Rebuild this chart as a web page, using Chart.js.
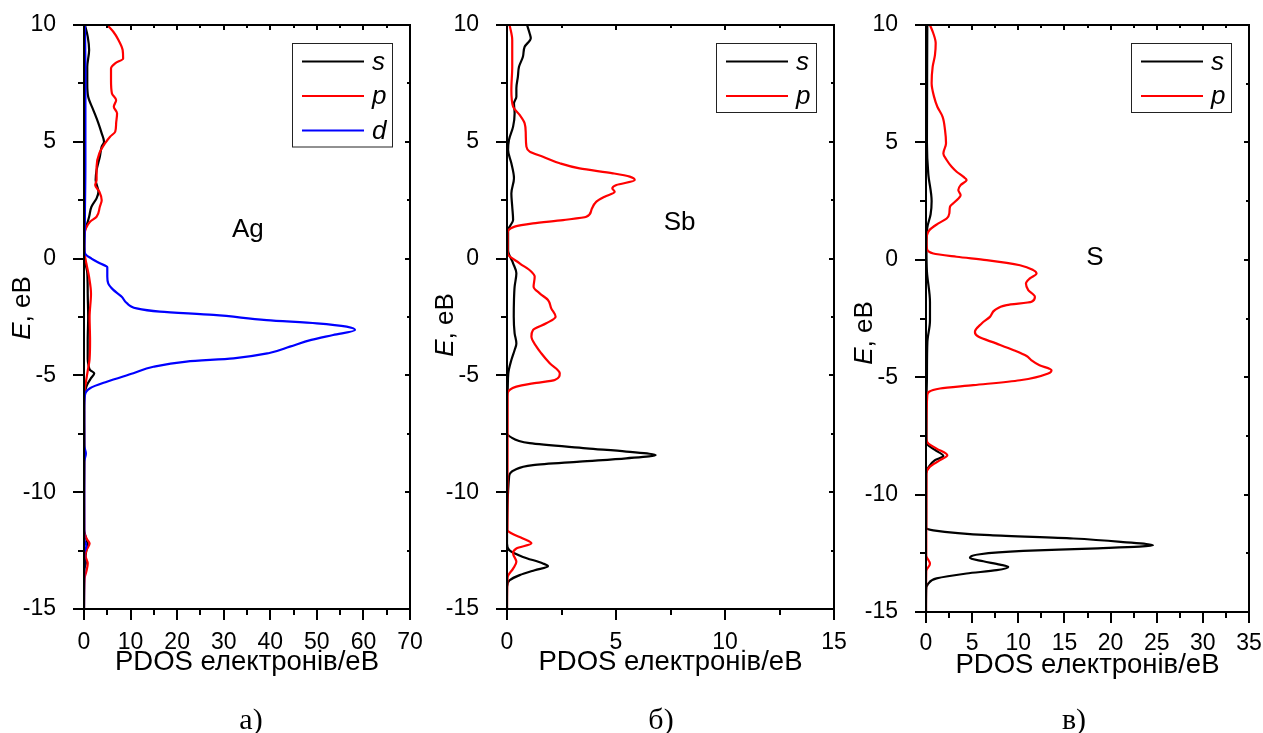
<!DOCTYPE html>
<html>
<head>
<meta charset="utf-8">
<title>PDOS Ag, Sb, S</title>
<script src="https://cdn.jsdelivr.net/npm/chart.js@4.4.1/dist/chart.umd.min.js"></script>
<style>
	html, body { margin: 0; padding: 0; background: #fff; overflow: hidden; }
	.panel { position: absolute; top: 0; }
</style>
</head>
<body>
<canvas id="chartAg" class="panel" width="440" height="733" style="left:0px"></canvas>
<canvas id="chartSb" class="panel" width="440" height="733" style="left:420px"></canvas>
<canvas id="chartS" class="panel" width="423" height="733" style="left:840px"></canvas>
<script>
// Ag: s, p, d projected DOS (energy in eV, PDOS in electrons/eV)
var agSEnergy = [10, 9.5, 8.93, 8.2, 7.5, 6.93, 6.36, 5.79, 5.36, 5.0, 4.79, 4.36, 3.79, 3.36, 2.86, 2.58, 2.22, 1.79, 1.51, 1.22, 0.8, 0.3, -0.2, -0.6, -1.5, -2.5, -3.5, -4.3, -4.6, -4.77, -4.91, -5.12, -5.35, -5.55, -5.9, -7, -8.3, -10, -11.6, -12.0, -12.25, -12.5, -12.8, -13.0, -13.3, -15];
var agSDos = [0.2, 0.8, 1.1, 0.7, 0.7, 0.9, 2.0, 3.1, 3.8, 4.3, 3.8, 3.4, 2.7, 2.5, 3.1, 2.7, 1.6, 1.1, 0.7, 0.2, 0.05, 0.05, 0.3, 0.7, 0.8, 0.9, 0.8, 0.8, 1.0, 1.3, 2.2, 1.5, 0.8, 0.4, 0.05, 0.05, 0.1, 0.02, 0.02, 0.5, 0.8, 0.5, 0.3, 0.4, 0.1, 0];

var agPEnergy = [10, 9.71, 9.36, 8.93, 8.57, 8.36, 8.14, 7.64, 7.07, 6.79, 6.5, 6.22, 5.79, 5.43, 5.22, 4.93, 4.51, 3.93, 3.36, 3.15, 2.86, 2.5, 2.22, 1.79, 1.58, 1.29, 0.9, 0.3, 0, -0.3, -0.8, -1.5, -2.5, -3.5, -4.3, -4.8, -5.3, -5.7, -6.5, -10, -11.7, -12.0, -12.2, -12.45, -12.7, -13.05, -13.4, -13.7, -15];
var agPDos = [5.0, 6.3, 7.4, 8.3, 8.4, 6.7, 5.8, 5.8, 6.0, 6.9, 6.4, 7.1, 6.9, 6.7, 5.6, 4.5, 3.3, 2.7, 2.7, 2.4, 3.3, 3.8, 3.4, 2.7, 1.3, 0.4, 0.05, 0.05, 0.3, 0.6, 1.1, 1.5, 1.2, 1.3, 1.2, 0.8, 0.4, 0.1, 0.02, 0.02, 0.05, 0.6, 1.2, 0.6, 0.3, 0.8, 0.5, 0.1, 0];

var agDEnergy = [10, 8, 6, 4, 2, 1, 0.5, 0.23, 0, -0.2, -0.37, -0.6, -0.77, -1.06, -1.34, -1.63, -1.91, -2.13, -2.27, -2.41, -2.63, -2.77, -2.91, -3.06, -3.27, -3.48, -3.77, -4.05, -4.27, -4.41, -4.63, -4.91, -5.27, -5.55, -5.84, -6.5, -8.0, -8.34, -8.7, -10, -12.0, -12.3, -12.6, -15];
var agDDos = [0.2, 0.3, 0.3, 0.3, 0.2, 0.15, 0.1, 0.2, 1.6, 3.4, 5.0, 5.0, 5.0, 5.2, 6.3, 8.1, 9.2, 11.3, 16.3, 27.8, 39.2, 50, 56.4, 58.2, 53.5, 48.8, 44.2, 39.6, 32.1, 22, 14.9, 10.6, 4.9, 1.3, 0.2, 0.05, 0.05, 0.4, 0.05, 0.05, 0.05, 0.5, 0.05, 0];

// Sb: s, p
var sbSEnergy = [10, 9.64, 9.43, 9.07, 8.64, 8.21, 7.79, 7.29, 6.93, 6.65, 6.22, 5.65, 5.08, 4.65, 4.08, 3.44, 2.79, 2.22, 1.65, 1.22, 0.36, -0.2, -0.63, -1.2, -1.77, -2.49, -3.2, -3.63, -3.91, -4.34, -4.91, -5.63, -5.91, -7.48, -7.61, -7.9, -8.12, -8.26, -8.41, -8.55, -8.69, -8.84, -9.05, -9.3, -12.2, -12.48, -12.77, -13.05, -13.17, -13.34, -13.55, -13.77, -14.05, -15];
var sbSDos = [0.92, 1.04, 1.09, 0.81, 0.73, 0.55, 0.5, 0.43, 0.43, 0.32, 0.35, 0.28, 0.09, 0.05, 0.2, 0.32, 0.2, 0.24, 0.28, 0.05, 0.05, 0.28, 0.43, 0.35, 0.32, 0.31, 0.35, 0.43, 0.35, 0.2, 0.06, 0.03, 0, 0, 0.12, 1.04, 3.64, 5.47, 6.82, 5.47, 3.33, 1.19, 0.35, 0.1, 0, 0.1, 0.73, 1.65, 1.88, 1.27, 0.58, 0.12, 0, 0];

var sbPEnergy = [10, 9.36, 8.21, 7.22, 6.5, 6.15, 5.79, 5.36, 4.79, 4.58, 4.36, 4.08, 3.86, 3.65, 3.51, 3.36, 3.15, 3.01, 2.86, 2.65, 2.44, 2.08, 1.79, 1.65, 1.51, 1.37, 1.08, 0.23, -0.2, -0.56, -0.77, -1.2, -1.49, -1.77, -2.13, -2.49, -2.77, -3.06, -3.34, -3.77, -4.05, -4.48, -4.91, -5.2, -5.34, -5.48, -5.77, -11.62, -11.76, -11.98, -12.19, -12.41, -12.62, -12.98, -13.27, -13.63, -15];
var sbPDos = [0.12, 0.24, 0.24, 0.2, 0.28, 0.58, 0.81, 0.86, 0.89, 1.04, 1.65, 2.42, 3.33, 4.86, 5.63, 5.86, 5.02, 4.83, 4.94, 4.48, 4.1, 3.87, 3.64, 2.57, 1.19, 0.35, 0.03, 0.03, 0.58, 1.12, 1.27, 1.22, 1.5, 1.88, 2.03, 2.23, 1.8, 1.19, 1.12, 1.35, 1.57, 1.96, 2.42, 2.19, 1.19, 0.43, 0.03, 0.02, 0.2, 0.73, 1.12, 0.43, 0.28, 0.43, 0.28, 0.03, 0];

// S: s, p
var sSEnergy = [10, 5, 3.65, 2.5, 1.94, 1.37, 0.5, -0.5, -1.8, -2.6, -3.5, -5, -6, -7.8, -8.1, -8.36, -8.53, -8.82, -9.1, -11.4, -11.52, -11.73, -11.87, -12.02, -12.16, -12.30, -12.40, -12.54, -12.70, -12.84, -12.98, -13.08, -13.22, -13.36, -13.57, -13.79, -14.07, -15];
var sSDos = [0.14, 0.1, 0.25, 0.61, 0.5, 0.14, 0.05, 0.1, 0.43, 0.43, 0.15, 0.1, 0.05, 0.05, 0.97, 1.88, 0.97, 0.3, 0.02, 0.02, 0.79, 6.93, 15.95, 21.36, 24.61, 17.76, 10.54, 5.85, 4.76, 6.21, 8.01, 8.91, 7.65, 4.4, 1.15, 0.25, 0.02, 0];

var sPEnergy = [10, 9.65, 9.22, 8.72, 8.22, 7.52, 6.95, 6.52, 6.09, 5.53, 4.96, 4.53, 4.25, 3.96, 3.75, 3.54, 3.40, 3.18, 2.97, 2.76, 2.47, 2.26, 1.98, 1.76, 1.55, 1.26, 0.84, 0.49, 0.27, 0.13, -0.01, -0.23, -0.44, -0.58, -0.79, -1.01, -1.29, -1.58, -1.79, -1.93, -2.14, -2.43, -2.71, -3.07, -3.28, -3.56, -3.85, -4.1, -4.27, -4.49, -4.70, -4.84, -5.13, -5.34, -5.48, -5.76, -7.6, -7.82, -8.04, -8.32, -8.53, -8.82, -9.1, -12.6, -12.94, -13.25, -15];
var sPDos = [0.43, 0.79, 1.05, 0.97, 0.72, 0.61, 0.87, 1.23, 1.8, 2.06, 2.17, 1.88, 2.24, 2.78, 3.32, 4.04, 4.4, 3.75, 3.5, 3.75, 3.14, 2.6, 2.53, 2.24, 1.34, 0.36, 0.05, 0.1, 0.79, 3.32, 6.57, 10.18, 11.62, 11.98, 11.26, 10.83, 11.08, 11.8, 11.44, 8.73, 7.47, 6.93, 6.03, 5.3, 5.7, 7.6, 9.5, 10.9, 11.4, 12.3, 13.6, 13.24, 10.18, 5.12, 1.52, 0.14, 0.03, 0.25, 1.15, 2.31, 1.52, 0.4, 0.05, 0.03, 0.43, 0.03, 0];

var orbitalColor = { s: '#000000', p: '#ff0000', d: '#0000ff' };
var FONT = "'Liberation Sans', Arial, sans-serif";
var SERIF = "'Liberation Serif', 'Times New Roman', serif";

Chart.defaults.font.family = FONT;
Chart.defaults.color = '#000';

function toPoints(energy, dos) {
	return energy.map(function (e, i) {
		return { x: dos[i], y: e };
	});
}

function orbital(name, energy, dos, order) {
	return {
		label: name,
		data: toPoints(energy, dos),
		borderColor: orbitalColor[name],
		borderWidth: 2.2,
		pointRadius: 0,
		fill: false,
		cubicInterpolationMode: 'monotone',
		order: order
	};
}

function segment(ctx, x1, y1, x2, y2) {
	ctx.beginPath();
	ctx.moveTo(x1, y1);
	ctx.lineTo(x2, y2);
	ctx.stroke();
}

// box, tick marks, legend and the extra text of each panel
var framePlugin = {
	id: 'frame',
	afterDraw: function (chart, args, opts) {
		var ctx = chart.ctx;
		var area = chart.chartArea;
		var xs = chart.scales.x;
		var ys = chart.scales.y;
		var i, p, major;

		ctx.save();
		ctx.strokeStyle = '#000';
		ctx.lineWidth = 2;
		ctx.strokeRect(area.left, area.top, area.right - area.left, area.bottom - area.top);

		// outward ticks left/bottom, short inward ones on top/right
		var nx = Math.round((xs.max - xs.min) / opts.xMinor);
		for (i = 0; i <= nx; i++) {
			p = Math.round(xs.getPixelForValue(xs.min + i * opts.xMinor));
			major = i % 2 === 0;
			segment(ctx, p, area.bottom, p, area.bottom + (major ? 11 : 6));
			segment(ctx, p, area.top, p, area.top + (major ? 5 : 3));
		}
		var ny = Math.round((ys.max - ys.min) / 2.5);
		for (i = 0; i <= ny; i++) {
			p = Math.round(ys.getPixelForValue(ys.min + i * 2.5));
			major = i % 2 === 0;
			segment(ctx, area.left, p, area.left - (major ? 11 : 6), p);
			segment(ctx, area.right, p, area.right - (major ? 5 : 3), p);
		}

		// legend
		var sets = chart.data.datasets;
		var bx = area.right - 118;
		var by = area.top + 18;
		ctx.lineWidth = 1;
		ctx.strokeStyle = '#222';
		ctx.strokeRect(bx + 0.5, by + 0.5, 100, 34.5 * sets.length);
		ctx.font = 'italic 26px ' + FONT;
		ctx.textAlign = 'left';
		ctx.textBaseline = 'middle';
		ctx.fillStyle = '#000';
		sets.forEach(function (ds, k) {
			var ry = by + 18.5 + k * 34.5;
			ctx.strokeStyle = ds.borderColor;
			ctx.lineWidth = 2.2;
			segment(ctx, bx + 10, ry, bx + 72, ry);
			ctx.fillText(ds.label, bx + 80, ry + 1);
		});

		// element name inside the plot
		ctx.font = '26px ' + FONT;
		ctx.textAlign = 'center';
		ctx.textBaseline = 'alphabetic';
		ctx.fillText(opts.element, xs.getPixelForValue(opts.elementAt[0]), ys.getPixelForValue(opts.elementAt[1]));

		// x axis title
		ctx.font = '27.5px ' + FONT;
		ctx.fillText('PDOS електронів/еВ', (area.left + area.right) / 2, area.bottom + 61);

		// y axis title, italic E
		ctx.save();
		ctx.translate(area.left - 61.5, opts.yTitleY);
		ctx.rotate(-Math.PI / 2);
		ctx.textAlign = 'left';
		ctx.textBaseline = 'middle';
		ctx.font = 'italic 26px ' + FONT;
		var w1 = ctx.measureText('E').width;
		ctx.font = '26px ' + FONT;
		var w2 = ctx.measureText(', еВ').width;
		ctx.font = 'italic 26px ' + FONT;
		ctx.fillText('E', -(w1 + w2) / 2, 0);
		ctx.font = '26px ' + FONT;
		ctx.fillText(', еВ', -(w1 + w2) / 2 + w1, 0);
		ctx.restore();

		// panel letter
		ctx.font = '30px ' + SERIF;
		ctx.textAlign = 'center';
		ctx.fillText(opts.panel, opts.panelX, 729);

		ctx.restore();
	}
};

function makePanel(id, cfg) {
	return new Chart(document.getElementById(id), {
		type: 'line',
		data: { datasets: cfg.datasets },
		plugins: [framePlugin],
		options: {
			responsive: false,
			animation: false,
			indexAxis: 'y',
			layout: { padding: { top: 25, right: cfg.padRight, left: 0, bottom: 0 } },
			scales: {
				x: {
					type: 'linear',
					min: 0,
					max: cfg.xMax,
					grid: { display: false },
					border: { display: false },
					ticks: {
						stepSize: cfg.xMajor,
						autoSkip: false,
						maxRotation: 0,
						padding: cfg.xTickPad,
						font: { size: 23 },
						color: '#000'
					},
					afterFit: function (scale) {
						scale.height = cfg.xHeight;
						scale.paddingLeft = 0;
						scale.paddingRight = 0;
					}
				},
				y: {
					type: 'linear',
					min: -15,
					max: 10,
					grid: { display: false },
					border: { display: false },
					ticks: {
						stepSize: 5,
						padding: 20,
						font: { size: 23 },
						color: '#000'
					},
					afterFit: function (scale) {
						scale.width = cfg.yWidth;
						scale.paddingTop = 0;
						scale.paddingBottom = 0;
					}
				}
			},
			plugins: {
				legend: { display: false },
				tooltip: { enabled: false },
				frame: {
					xMinor: cfg.xMajor / 2,
					element: cfg.element,
					elementAt: cfg.elementAt,
					yTitleY: cfg.yTitleY,
					panel: cfg.panel,
					panelX: cfg.panelX
				}
			}
		}
	});
}

makePanel('chartAg', {
	datasets: [
		orbital('s', agSEnergy, agSDos, 2),
		orbital('p', agPEnergy, agPDos, 1),
		orbital('d', agDEnergy, agDDos, 0)
	],
	xMax: 70, xMajor: 10,
	yWidth: 84, padRight: 30, xHeight: 124, xTickPad: 12,
	element: 'Ag', elementAt: [35.2, 0.93],
	yTitleY: 308, panel: 'а)', panelX: 251
});

makePanel('chartSb', {
	datasets: [
		orbital('s', sbSEnergy, sbSDos, 1),
		orbital('p', sbPEnergy, sbPDos, 0)
	],
	xMax: 15, xMajor: 5,
	yWidth: 87, padRight: 26, xHeight: 124, xTickPad: 12,
	element: 'Sb', elementAt: [7.92, 1.22],
	yTitleY: 325, panel: 'б)', panelX: 241
});

makePanel('chartS', {
	datasets: [
		orbital('s', sSEnergy, sSDos, 1),
		orbital('p', sPEnergy, sPDos, 0)
	],
	xMax: 35, xMajor: 5,
	yWidth: 86, padRight: 14, xHeight: 121, xTickPad: 10,
	element: 'S', elementAt: [18.3, -0.23],
	yTitleY: 333, panel: 'в)', panelX: 234
});
</script>
</body>
</html>
